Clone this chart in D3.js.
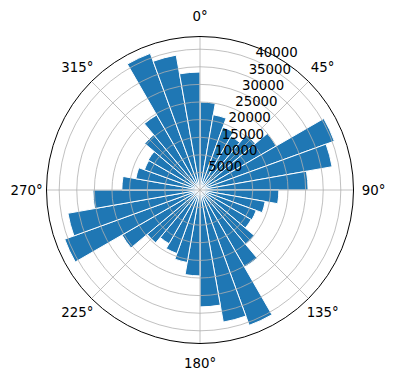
<!DOCTYPE html>
<html>
<head>
<meta charset="utf-8">
<script src="https://cdn.jsdelivr.net/npm/d3@7"></script>
<style>
  body { margin: 0; background: #fff; }
  svg { display: block; font-family: "DejaVu Sans", sans-serif; }
</style>
</head>
<body>
<div id="chart"></div>
<script>
// bar start angles (degrees, clockwise from north) and bar heights
const directions = [0, 10, 20, 30, 40, 50, 60, 70, 80,
    90, 100, 110, 120, 130, 140, 150, 160, 170,
    180, 190, 200, 210, 220, 230, 240, 250, 260,
    270, 280, 290, 300, 310, 320, 330, 340, 350];
const counts = [25000, 21700, 19000, 17600, 20500, 25000, 40600, 38100, 30700,
    22400, 18800, 17000, 16800, 20200, 25300, 40900, 38100, 33200,
    24400, 20900, 19200, 17600, 19600, 25600, 40900, 38100, 30400,
    22200, 18500, 16800, 17000, 20500, 24600, 41300, 38900, 33500];
const binWidth = 10;
const rTicks = [5000, 10000, 15000, 20000, 25000, 30000, 35000, 40000];
const thetaTicks = [0, 45, 90, 135, 180, 225, 270, 315];
const rMax = 43600;

const W = 396, H = 380;
const cx = 200, cy = 190, outerR = 153.5;
const rad = d => d * Math.PI / 180;

const svg = d3.select("#chart").append("svg")
    .attr("width", W)
    .attr("height", H);

const g = svg.append("g").attr("transform", `translate(${cx},${cy})`);

const r = d3.scaleLinear().domain([0, rMax]).range([0, outerR]);

const arc = d3.arc()
    .innerRadius(0)
    .outerRadius(d => r(d.v))
    .startAngle(d => rad(d.a))
    .endAngle(d => rad(d.a + binWidth));

const bars = directions.map((a, i) => ({ a, v: counts[i] }));

g.append("g")
    .selectAll("path")
    .data(bars)
    .enter().append("path")
    .attr("d", arc)
    .attr("fill", "#1f77b4")
    .attr("stroke", "#fff")
    .attr("stroke-width", 1)
    .attr("stroke-linejoin", "miter");

// grid on top of bars, like matplotlib
const grid = g.append("g");
grid.selectAll("circle")
    .data(rTicks)
    .enter().append("circle")
    .attr("r", d => r(d))
    .attr("fill", "none")
    .attr("stroke", "#b0b0b0")
    .attr("stroke-width", 0.8);

grid.selectAll("line")
    .data(thetaTicks)
    .enter().append("line")
    .attr("x1", 0).attr("y1", 0)
    .attr("x2", d => outerR * Math.sin(rad(d)))
    .attr("y2", d => -outerR * Math.cos(rad(d)))
    .attr("stroke", "#b0b0b0")
    .attr("stroke-width", 0.8);

g.append("circle")
    .attr("r", outerR)
    .attr("fill", "none")
    .attr("stroke", "#000")
    .attr("stroke-width", 1);

// angle labels
const labR = outerR + 20;
g.append("g").selectAll("text")
    .data(thetaTicks)
    .enter().append("text")
    .attr("x", d => labR * Math.sin(rad(d)))
    .attr("y", d => -labR * Math.cos(rad(d)))
    .attr("text-anchor", "middle")
    .attr("dominant-baseline", "central")
    .attr("font-size", "13.33px")
    .text(d => d + "°");

// radial labels along 22.5°
const rlabAngle = rad(22.5);
g.append("g").selectAll("text")
    .data(rTicks)
    .enter().append("text")
    .attr("x", d => r(d) * Math.sin(rlabAngle) + 1.5)
    .attr("y", d => -r(d) * Math.cos(rlabAngle) - 2.5)
    .attr("text-anchor", "start")
    .attr("font-size", "13.33px")
    .text(d => d);
</script>
</body>
</html>
